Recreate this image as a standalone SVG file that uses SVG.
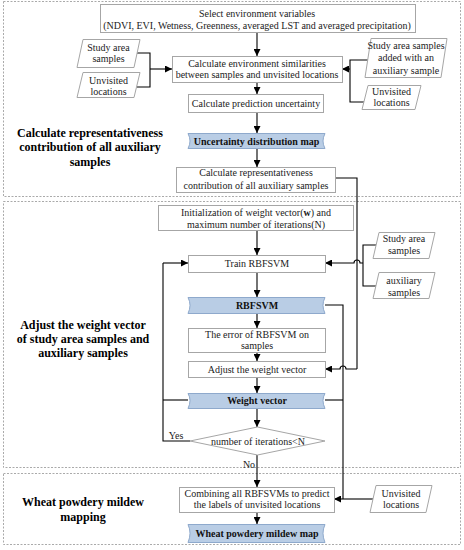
<svg xmlns="http://www.w3.org/2000/svg" width="464" height="550" viewBox="0 0 464 550">
<defs>
<marker id="ah" viewBox="0 0 8 8" refX="8" refY="4" markerWidth="7" markerHeight="7" markerUnits="userSpaceOnUse" orient="auto">
<path d="M0,0 L8,4 L0,8 z" fill="#000"/>
</marker>
<style>
.panel{fill:#fff;stroke:#aaa;stroke-width:1;stroke-dasharray:2,1.5}
.box{fill:#fff;stroke:#a6a6a6;stroke-width:1}
.par{fill:#fff;stroke:#a6a6a6;stroke-width:1}
.tape{fill:#b9cde5;stroke:#8ea9cc;stroke-width:1}
.t{font-family:"Liberation Serif","Times New Roman",serif;font-size:10px;fill:#222;text-anchor:middle}
.tb{font-family:"Liberation Serif","Times New Roman",serif;font-size:10px;font-weight:bold;fill:#111;text-anchor:middle}
.lab{font-family:"Liberation Serif","Times New Roman",serif;font-size:12px;font-weight:bold;fill:#000;text-anchor:middle}
.ln{fill:none;stroke:#000;stroke-width:1.1}
.arr{fill:none;stroke:#000;stroke-width:1.1;marker-end:url(#ah)}
</style>
</defs>
<rect width="464" height="550" fill="#fff"/>
<g id="panels">
<rect class="panel" x="3.5" y="1.5" width="457" height="195"/>
<rect class="panel" x="3.5" y="201.5" width="457" height="266"/>
<rect class="panel" x="3.5" y="473.5" width="457" height="71"/>
</g>
<g id="labels">
<text class="lab" x="90" y="137">Calculate representativeness</text>
<text class="lab" x="90" y="151">contribution of all auxiliary</text>
<text class="lab" x="90" y="166">samples</text>
<text class="lab" x="83" y="329">Adjust the weight vector</text>
<text class="lab" x="83" y="343">of study area samples and</text>
<text class="lab" x="83" y="357">auxiliary samples</text>
<text class="lab" x="83" y="506">Wheat powdery mildew</text>
<text class="lab" x="83" y="521">mapping</text>
</g>
<g id="connectors">
<path class="arr" d="M257,32 V56"/>
<path class="ln" d="M137,53 H150 V87 H137"/>
<path class="arr" d="M150,69 H172"/>
<path class="ln" d="M368,60 H350 V102 H364"/>
<path class="arr" d="M350,69 H342"/>
<path class="arr" d="M257,82 V94"/>
<path class="arr" d="M257,112 V133"/>
<path class="arr" d="M257,148 V167"/>
<path class="ln" d="M335,178 H357 V369"/>
<path class="arr" d="M357,369 H346 A3,3 0 0 0 340,369 H325"/>
<path class="arr" d="M257,230 V255"/>
<path class="ln" d="M377,245 H363 V286 H376"/>
<path class="arr" d="M363,263 H360 A3,3 0 0 0 354,263 H325"/>
<path class="arr" d="M257,272 V297"/>
<path class="arr" d="M257,313 V328"/>
<path class="arr" d="M257,352 V361"/>
<path class="arr" d="M257,377 V393"/>
<path class="arr" d="M257,408 V427"/>
<path class="ln" d="M325,305 H343 V499"/>
<path class="ln" d="M325,400 H343"/>
<path class="ln" d="M373,499 H343"/>
<path class="arr" d="M343,499 H334"/>
<path class="ln" d="M190,441 H163 V263"/>
<path class="arr" d="M163,263 H188"/>
<path class="ln" d="M188,400 H163"/>
<path class="arr" d="M257,455 V487"/>
<path class="arr" d="M257,512 V524"/>
<text class="t" x="176" y="439">Yes</text>
<text class="t" x="249" y="468">No</text>
</g>
<g id="n-select">
<rect class="box" x="100.5" y="4.5" width="315" height="28"/>
<text class="t" x="257" y="16.5">Select environment variables</text>
<text class="t" x="257" y="28.5">(NDVI, EVI, Wetness, Greenness, averaged LST and averaged precipitation)</text>
</g>
<g id="n-study1">
<path class="par" d="M83,39.5 H140 L134,67.5 H77 Z"/>
<text class="t" x="108.5" y="50.5">Study area</text>
<text class="t" x="108.5" y="61.5">samples</text>
</g>
<g id="n-unv1">
<path class="par" d="M83,72.5 H140 L134,97.5 H77 Z"/>
<text class="t" x="108.5" y="83.5">Unvisited</text>
<text class="t" x="108.5" y="94.5">locations</text>
</g>
<g id="n-env">
<rect class="box" x="172.5" y="56.5" width="170" height="26"/>
<text class="t" x="257" y="66.5">Calculate environment  similarities</text>
<text class="t" x="257" y="77.5">between samples and unvisited locations</text>
</g>
<g id="n-study2">
<path class="par" d="M371,38.5 H447 L441,77.5 H365 Z"/>
<text class="t" x="406" y="48.5">Study area samples</text>
<text class="t" x="406" y="61">added with an</text>
<text class="t" x="406" y="73.5">auxiliary sample</text>
</g>
<g id="n-unv2">
<path class="par" d="M368,85.5 H421 L415,109.5 H362 Z"/>
<text class="t" x="391.5" y="94.5">Unvisited</text>
<text class="t" x="391.5" y="105.5">locations</text>
</g>
<g id="n-pred">
<rect class="box" x="188.5" y="94.5" width="135" height="18"/>
<text class="t" x="256" y="107">Calculate prediction uncertainty</text>
</g>
<g id="n-uncmap">
<path class="tape" d="M188,133.5 H325 Q321,141 325,148.5 H188 Q192,141 188,133.5 Z"/>
<text class="tb" x="256.5" y="144.5">Uncertainty distribution map</text>
</g>
<g id="n-rep">
<rect class="box" x="176.5" y="167.5" width="159" height="25"/>
<text class="t" x="256" y="176">Calculate representativeness</text>
<text class="t" x="256" y="188.5">contribution of all auxiliary samples</text>
</g>
<g id="n-init">
<rect class="box" x="158.5" y="205.5" width="195" height="25"/>
<text class="t" x="256" y="215.5">Initialization of weight vector(<tspan font-weight="bold">w</tspan>) and</text>
<text class="t" x="256" y="227.5">maximum number of iterations(N)</text>
</g>
<g id="n-study3">
<path class="par" d="M379,232.5 H435 L429,258.5 H373 Z"/>
<text class="t" x="404" y="242">Study area</text>
<text class="t" x="404" y="254">samples</text>
</g>
<g id="n-aux">
<path class="par" d="M379,272.5 H435 L429,298.5 H373 Z"/>
<text class="t" x="404" y="284">auxiliary</text>
<text class="t" x="404" y="296">samples</text>
</g>
<g id="n-train">
<rect class="box" x="188.5" y="255.5" width="137" height="17"/>
<text class="t" x="257" y="267">Train RBFSVM</text>
</g>
<g id="n-rbfsvm">
<path class="tape" d="M188,297.5 H325 Q321,305 325,313.5 H188 Q192,305 188,297.5 Z"/>
<text class="tb" x="257" y="309">RBFSVM</text>
</g>
<g id="n-error">
<rect class="box" x="188.5" y="328.5" width="137" height="24"/>
<text class="t" x="257" y="337.5">The error of RBFSVM on</text>
<text class="t" x="257" y="349">samples</text>
</g>
<g id="n-adjust">
<rect class="box" x="188.5" y="361.5" width="137" height="16"/>
<text class="t" x="257" y="372.5">Adjust the weight vector</text>
</g>
<g id="n-weight">
<path class="tape" d="M188,393.5 H325 Q321,400 325,408.5 H188 Q192,400 188,393.5 Z"/>
<text class="tb" x="257" y="404">Weight vector</text>
</g>
<g id="n-iter">
<path class="box" d="M257.5,427 L325,441 L257.5,455 L190,441 Z"/>
<text class="t" x="258" y="444.5">number of iterations&lt;N</text>
</g>
<g id="n-comb">
<rect class="box" x="179.5" y="487.5" width="155" height="25"/>
<text class="t" x="257" y="496.5">Combining all RBFSVMs to predict</text>
<text class="t" x="257" y="508">the labels of unvisited locations</text>
</g>
<g id="n-unv3">
<path class="par" d="M376,485.5 H432 L426,512.5 H370 Z"/>
<text class="t" x="401" y="496.5">Unvisited</text>
<text class="t" x="401" y="508">locations</text>
</g>
<g id="n-wheatmap">
<path class="tape" d="M188,524.5 H325 Q321,533 325,542.5 H188 Q192,533 188,524.5 Z"/>
<text class="tb" x="257" y="537">Wheat powdery mildew map</text>
</g>
</svg>
